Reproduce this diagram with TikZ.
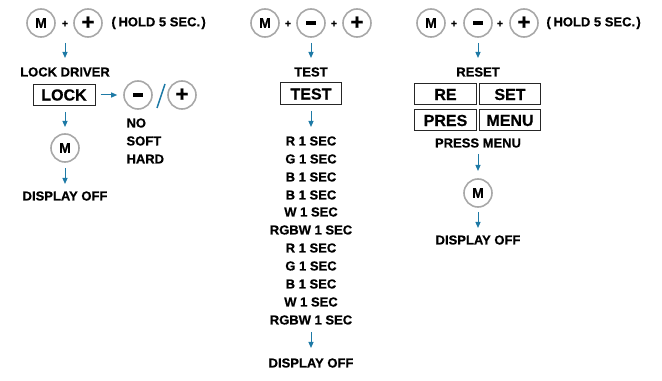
\documentclass[tikz,border=0pt]{standalone}
\usepackage{fontspec}
\setmainfont{Liberation Sans}[BoldFeatures={FakeBold=0.6}]
\usetikzlibrary{arrows.meta}

\definecolor{arrowblue}{RGB}{30,122,166}
\definecolor{ringgray}{RGB}{168,168,168}

\tikzset{every picture/.style={line width=0.75pt}}
\tikzset{
  btn/.style={circle,draw=ringgray,line width=1.2pt,minimum size=21pt,inner sep=0pt,font=\fontsize{10.5}{12}\selectfont\bfseries},
  signbtn/.style={btn,font=\fontsize{16.5}{16.5}\selectfont\bfseries},
  joint/.style={inner sep=0.75pt,font=\fontsize{8}{9}\selectfont\bfseries},
  lbl/.style={inner sep=0.75pt,font=\fontsize{9.75}{11}\selectfont\bfseries},
  screen/.style={draw=black!85,line width=0.75pt,minimum height=15.75pt,inner sep=0pt,font=\fontsize{12}{14}\selectfont\bfseries},
  flow/.style={draw=arrowblue,line width=0.75pt,-{Triangle[width=3.75pt,length=4.5pt]}},
}
\newcommand{\minusbar}{\rule{7.5pt}{2.6pt}}

\begin{document}
\begin{tikzpicture}[x=0.75pt,y=0.75pt,yscale=-1,xscale=1]
        \path (0,0) rectangle (662,381); %diagram frame

        %Column: lock driver
        \node [btn] (lockM) at (41,23) {M};
        \node [joint] (lockJ) at (65,24) {+};
        \node [signbtn] (lockP) at (88,23) {+};
        % Text Node
        \node [lbl,anchor=west] (lockHold) at (110,23) {(\kern2pt HOLD 5 SEC.\kern1pt)};
        % Text Node
        \node [lbl] (lockDrv) at (65,72) {LOCK DRIVER};
        \node [screen,minimum width=46.5pt] (lockBox) at (64,95) {LOCK};
        \node [btn] (lockMinus) at (138,95) {\minusbar};
        \node [signbtn] (lockPlus) at (182,95) {+};
        \draw [arrowblue,line width=1.1pt] (157,108) -- (165,84) ;
        % Text Node
        \node [lbl,anchor=west] (lockNo) at (125,123) {NO};
        % Text Node
        \node [lbl,anchor=west] (lockSoft) at (125,141) {SOFT};
        % Text Node
        \node [lbl,anchor=west] (lockHard) at (125,159) {HARD};
        \node [btn] (lockM2) at (65,148) {M};
        % Text Node
        \node [lbl] (lockOff) at (65,196) {DISPLAY OFF};

        \draw [flow,shorten <=14.25pt,shorten >=10.5pt] (lockJ.center) -- (lockDrv.center) ;
        \draw [flow,shorten <=3.75pt,shorten >=4.5pt] (lockBox.east) -- (lockMinus.west) ;
        \draw [flow,shorten <=12.75pt,shorten >=15.75pt] (lockBox.center -| lockM2) -- (lockM2.center) ;
        \draw [flow,shorten <=15pt,shorten >=9pt] (lockM2.center) -- (lockOff.center) ;

        %Column: test
        \node [btn] (testM) at (265,23) {M};
        \node [joint] (testJa) at (288,24) {+};
        \node [btn] (testMinus) at (311,23) {\minusbar};
        \node [joint] (testJb) at (334,24) {+};
        \node [signbtn] (testPlus) at (357,23) {+};
        % Text Node
        \node [lbl] (testLbl) at (311,72) {TEST};
        \node [screen,minimum width=45.75pt,minimum height=16.5pt] (testBox) at (311,94) {TEST};
        % Text Node
        \node [lbl] (testR) at (311,141) {R 1 SEC};
        % Text Node
        \node [lbl] (testG) at (311,159) {G 1 SEC};
        % Text Node
        \node [lbl] (testB) at (311,177) {B 1 SEC};
        % Text Node
        \node [lbl] (testBb) at (311,195) {B 1 SEC};
        % Text Node
        \node [lbl] (testW) at (311,212) {W 1 SEC};
        % Text Node
        \node [lbl] (testRGBW) at (311,230) {RGBW 1 SEC};
        % Text Node
        \node [lbl] (testRr) at (311,248) {R 1 SEC};
        % Text Node
        \node [lbl] (testGg) at (311,266) {G 1 SEC};
        % Text Node
        \node [lbl] (testBbb) at (311,284) {B 1 SEC};
        % Text Node
        \node [lbl] (testWw) at (311,302) {W 1 SEC};
        % Text Node
        \node [lbl] (testRGBWw) at (311,320) {RGBW 1 SEC};
        % Text Node
        \node [lbl] (testOff) at (311,363) {DISPLAY OFF};

        \draw [flow,shorten <=15pt,shorten >=10.5pt] (testMinus.center) -- (testLbl.center) ;
        \draw [flow,shorten <=12.75pt,shorten >=10.5pt] (testBox.center) -- (testR.center) ;
        \draw [flow,shorten <=9pt,shorten >=11.25pt] (testRGBWw.center) -- (testOff.center) ;

        %Column: reset
        \node [btn] (resetM) at (431,23) {M};
        \node [joint] (resetJa) at (454,24) {+};
        \node [btn] (resetMinus) at (478,23) {\minusbar};
        \node [joint] (resetJb) at (500,24) {+};
        \node [signbtn] (resetPlus) at (524,23) {+};
        % Text Node
        \node [lbl,anchor=west] (resetHold) at (545,23) {(\kern2pt HOLD 5 SEC.\kern1pt)};
        % Text Node
        \node [lbl] (resetLbl) at (478,72) {RESET};
        \node [screen,minimum width=46.5pt] (resetRe) at (445.5,94.5) {RE};
        \node [screen,minimum width=45.75pt] (resetSet) at (510,94.5) {SET};
        \node [screen,minimum width=46.5pt] (resetPres) at (445.5,120.5) {PRES};
        \node [screen,minimum width=45.75pt] (resetMenu) at (510,120.5) {MENU};
        % Text Node
        \node [lbl] (resetPress) at (478,143) {PRESS MENU};
        \node [btn] (resetM2) at (478,193) {M};
        % Text Node
        \node [lbl] (resetOff) at (478,240) {DISPLAY OFF};

        \draw [flow,shorten <=15pt,shorten >=10.5pt] (resetMinus.center) -- (resetLbl.center) ;
        \draw [flow,shorten <=8.25pt,shorten >=16.5pt] (resetPress.center) -- (resetM2.center) ;
        \draw [flow,shorten <=14.25pt,shorten >=9pt] (resetM2.center) -- (resetOff.center) ;

    \end{tikzpicture}
\end{document}
